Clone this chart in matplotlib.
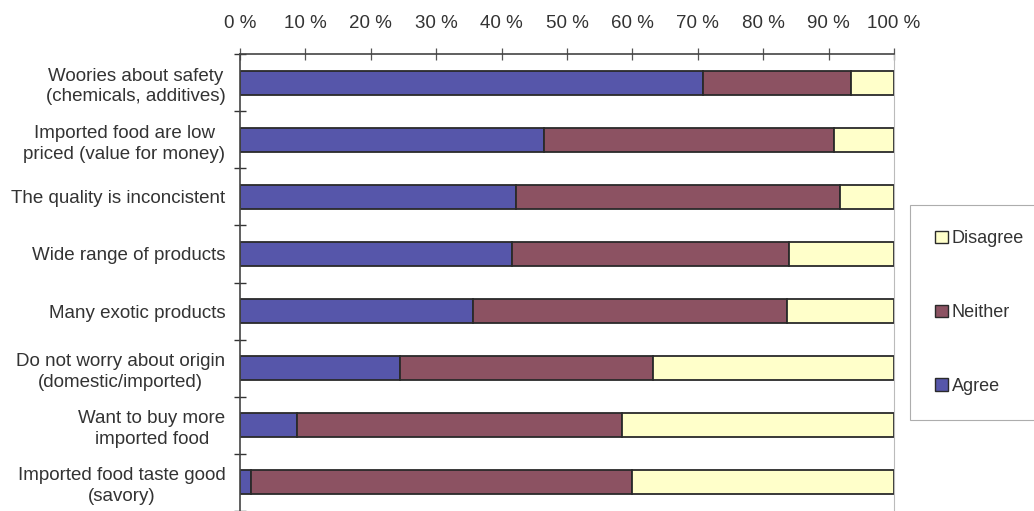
import matplotlib
matplotlib.use("Agg")
import matplotlib.pyplot as plt
import numpy as np
from matplotlib.patches import Patch

categories = [
    "Woories about safety\n(chemicals, additives)",
    "Imported food are low\npriced (value for money)",
    "The quality is inconcistent",
    "Wide range of products",
    "Many exotic products",
    "Do not worry about origin\n(domestic/imported)",
    "Want to buy more\nimported food",
    "Imported food taste good\n(savory)",
]
agree = [70.8, 46.5, 42.2, 41.6, 35.7, 24.5, 8.7, 1.7]
neither_end = [93.4, 90.8, 91.8, 84.0, 83.7, 63.1, 58.4, 60.0]
neither = [n - a for n, a in zip(neither_end, agree)]
disagree = [100 - n for n in neither_end]
xticks = [0, 10, 20, 30, 40, 50, 60, 70, 80, 90, 100]
xticklabels = [f"{v} %" for v in xticks]

c_agree = "#5656aa"
c_neither = "#8c5262"
c_disagree = "#ffffca"
edge = "#2a2a2a"
textc = "#333333"

plt.rcParams['font.family'] = ['Liberation Sans', 'DejaVu Sans']

fig = plt.figure(figsize=(10.34, 5.11), dpi=100)
ax = fig.add_axes([240/1034, 0.0, (894-240)/1034, 1 - 54/511])

y = np.arange(len(categories))
h = 0.42
ax.barh(y, agree, height=h, color=c_agree, edgecolor=edge, linewidth=1.3, label="Agree")
ax.barh(y, neither, left=agree, height=h, color=c_neither, edgecolor=edge, linewidth=1.3, label="Neither")
ax.barh(y, disagree, left=neither_end, height=h, color=c_disagree, edgecolor=edge, linewidth=1.3, label="Disagree")

ax.set_xlim(0, 100)
ax.set_ylim(len(categories) - 0.5, -0.5)

ax.xaxis.tick_top()
ax.set_xticks(xticks)
ax.set_xticklabels(xticklabels, fontsize=13.5, color=textc)
ax.tick_params(axis='x', direction='inout', length=9, width=0.9, colors='#555555',
               labelcolor=textc, pad=11)

ax.set_yticks(y)
ax.set_yticklabels(categories, fontsize=13.5, color=textc, ha='right',
                   multialignment='center', linespacing=1.3)
ax.tick_params(axis='y', which='major', length=0, pad=10.5)
ax.set_yticks(np.arange(len(categories) + 1) - 0.5, minor=True)
ax.tick_params(axis='y', which='minor', direction='inout', length=8, width=1.0, colors='#333333')

ax.spines['bottom'].set_visible(False)
ax.spines['top'].set_color('#444444')
ax.spines['top'].set_linewidth(1.2)
ax.spines['left'].set_color('#444444')
ax.spines['left'].set_linewidth(1.2)
ax.spines['right'].set_color('#bbbbbb')
ax.spines['right'].set_linewidth(0.8)
ax.spines['right'].set_linestyle((0, (2, 1)))

handles = [
    Patch(facecolor=c_disagree, edgecolor=edge, linewidth=1.0, label="Disagree"),
    Patch(facecolor=c_neither, edgecolor=edge, linewidth=1.0, label="Neither"),
    Patch(facecolor=c_agree, edgecolor=edge, linewidth=1.0, label="Agree"),
]
leg = fig.legend(handles=handles, loc='upper left',
                 bbox_to_anchor=(910/1034, 1 - 205/511), bbox_transform=fig.transFigure,
                 fontsize=13, frameon=True, fancybox=False, edgecolor='#999999',
                 handlelength=0.7, handleheight=0.7, handletextpad=0.2,
                 labelspacing=3.15, borderpad=1.4, borderaxespad=0)
leg.get_frame().set_linewidth(0.8)
for t in leg.get_texts():
    t.set_color(textc)

fig.savefig("out.png", dpi=100)
